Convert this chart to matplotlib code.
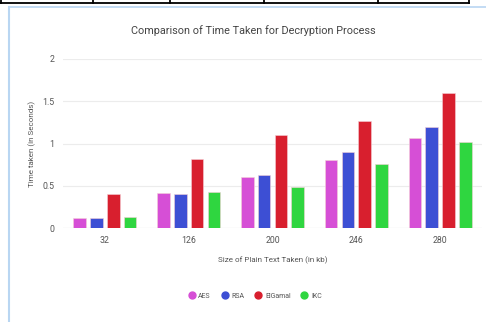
import matplotlib
matplotlib.use("Agg")
import matplotlib.pyplot as plt
from matplotlib.lines import Line2D
import numpy as np

# Decryption time (seconds) by plain-text size
sizes = ["32", "126", "200", "246", "280"]
algorithms = ["AES", "RSA", "ElGamal", "IKC"]
aes = [0.12, 0.41, 0.60, 0.80, 1.07]
rsa = [0.12, 0.40, 0.63, 0.90, 1.20]
elgamal = [0.40, 0.82, 1.10, 1.27, 1.60]
ikc = [0.13, 0.43, 0.48, 0.76, 1.02]
y_ticks = [0, 0.5, 1, 1.5, 2]
y_tick_labels = ["0", "0.5", "1", "1.5", "2"]

colors = ["#d64fd6", "#3d4fd4", "#d81f2e", "#2fd640"]
plt.rcParams["font.family"] = ["Roboto", "DejaVu Sans"]

fig = plt.figure(figsize=(4.86, 3.22), dpi=100)
ax = fig.add_axes([63 / 486, 1 - 228 / 322, (482 - 63) / 486, (228 - 59) / 322])

x = np.arange(len(sizes))
width = 0.15
offsets = [-0.3, -0.1, 0.1, 0.3]
for vals, off, c in zip([aes, rsa, elgamal, ikc], offsets, colors):
    ax.bar(x + off, vals, width, color=c, edgecolor="#f4d0d6", linewidth=0.4, zorder=3)

ax.set_xlim(-0.5, len(sizes) - 0.5)
ax.set_ylim(0, 2)
ax.set_yticks(y_ticks)
ax.set_yticklabels(y_tick_labels)
ax.set_xticks(x)
ax.set_xticklabels(sizes)
ax.tick_params(axis="both", length=0, colors="#555555", labelsize=6.3)
ax.tick_params(axis="x", pad=6)
ax.tick_params(axis="y", pad=6)
ax.grid(axis="y", color="#ececec", linewidth=0.8, zorder=0)
for s in ax.spines.values():
    s.set_visible(False)
ax.axhline(0, color="#e0e0e0", linewidth=0.8, zorder=2)

ax.set_ylabel("Time taken (in Seconds)", fontsize=5.8, color="#555555")
ax.yaxis.set_label_coords(-(63 - 36) / 419, 0.5)
ax.set_xlabel("Size of Plain Text Taken (in kb)", fontsize=5.8, color="#555555", labelpad=8)

fig.text(253 / 486, 1 - 31 / 322, "Comparison of Time Taken for Decryption Process",
         ha="center", va="center", fontsize=7.8, color="#444444")

handles = [Line2D([0], [0], marker="o", linestyle="", markersize=5,
                  markerfacecolor=c, markeredgecolor=c) for c in colors]
fig.legend(handles, algorithms, loc="center", bbox_to_anchor=(255 / 486, 1 - 296 / 322),
           ncol=4, frameon=False, fontsize=5, handletextpad=0.45, columnspacing=1.5,
           handlelength=1.0, labelcolor="#555555")

# Outer frame and table border strip
fig.add_artist(Line2D([9 / 486, 9 / 486], [0, 1 - 7 / 322], color="#b9d6f2", linewidth=1.5,
                      transform=fig.transFigure))
fig.add_artist(Line2D([9 / 486, 1], [1 - 7 / 322, 1 - 7 / 322], color="#b9d6f2", linewidth=1.2,
                      transform=fig.transFigure))
fig.add_artist(Line2D([0, 469 / 486], [1 - 3 / 322, 1 - 3 / 322], color="black", linewidth=1.3,
                      transform=fig.transFigure))
for px in [1, 93, 170, 264, 378, 469]:
    fig.add_artist(Line2D([px / 486, px / 486], [1 - 3 / 322, 1], color="black", linewidth=1.3,
                          transform=fig.transFigure))

fig.savefig("out.png", dpi=100, facecolor="white")
